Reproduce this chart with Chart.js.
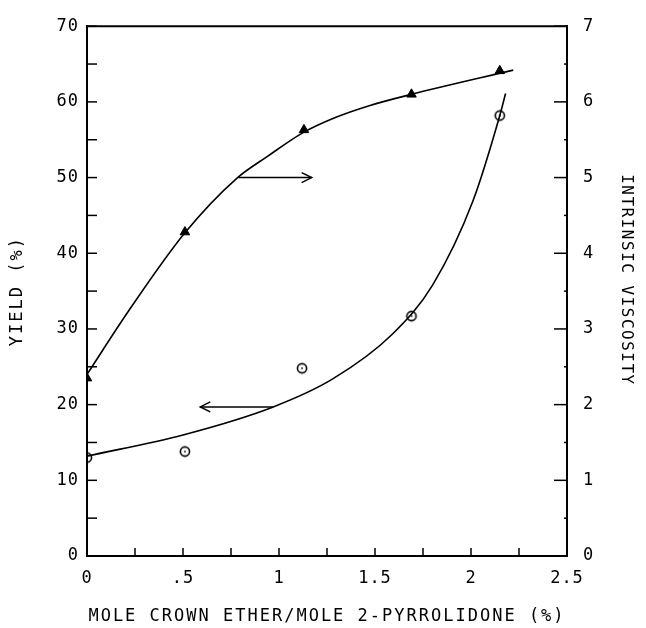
<!DOCTYPE html>
<html>
<head>
<meta charset="utf-8">
<script src="https://cdn.jsdelivr.net/npm/chart.js@4.4.1/dist/chart.umd.min.js"></script>
<style>
    html, body { margin: 0; padding: 0; background: #fff; }
    #wrap { width: 646px; height: 628px; }
</style>
</head>
<body>
<div id="wrap"><canvas id="chart" width="646" height="628"></canvas></div>
<script>
// Measured points
const viscLoading = [0, 0.51, 1.13, 1.69, 2.15];
const viscosity = [2.35, 4.28, 5.63, 6.1, 6.41];
const yieldLoading = [0, 0.51, 1.12, 1.69, 2.15];
const yieldPct = [13, 13.8, 24.8, 31.7, 58.2];

// Fitted curves
const viscCurveX = [0, 0.22, 0.51, 0.78, 0.94, 1.13, 1.3, 1.47, 1.69, 2.22];
const viscCurveY = [2.4, 3.25, 4.27, 4.99, 5.28, 5.6, 5.8, 5.95, 6.1, 6.42];
const yieldCurveX = [0, 0.5, 0.97, 1.28, 1.59, 1.80, 2.01, 2.15, 2.18];
const yieldCurveY = [13.2, 16.0, 19.7, 23.4, 29.3, 35.8, 46.9, 58.2, 61.1];

// Arrows pointing at each curve's axis
const viscArrowX = [0.79, 1.17];
const viscArrowY = [5.0, 5.0];
const yieldArrowX = [0.97, 0.59];
const yieldArrowY = [19.7, 19.7];

// Axes
const xTicks = [0, 0.5, 1, 1.5, 2, 2.5];
const xTickLabels = ['0', '.5', '1', '1.5', '2', '2.5'];
const xMinor = [0.25, 0.75, 1.25, 1.75, 2.25];
const yTicks = [0, 10, 20, 30, 40, 50, 60, 70];
const yTickLabels = ['0', '10', '20', '30', '40', '50', '60', '70'];
const yMinor = [5, 15, 25, 35, 45, 55, 65];
const y1Ticks = [0, 1, 2, 3, 4, 5, 6, 7];
const y1TickLabels = ['0', '1', '2', '3', '4', '5', '6', '7'];
const y1Minor = [0.5, 1.5, 2.5, 3.5, 4.5, 5.5, 6.5];

const FONT = "'DejaVu Sans Mono', monospace";
const toXY = (xs, ys) => xs.map((x, i) => ({ x: x, y: ys[i] }));

// open circle with a dot in the middle
const ring = document.createElement('canvas');
ring.width = 14;
ring.height = 14;
const rc = ring.getContext('2d');
rc.strokeStyle = '#000';
rc.lineWidth = 1.6;
rc.beginPath();
rc.arc(7, 7, 4.6, 0, Math.PI * 2);
rc.stroke();
rc.fillStyle = '#000';
rc.fillRect(6.2, 6.2, 1.6, 1.6);

// plotter lettering is spaced out, titles more than tick labels
const titleSpacing = { x: '2px', y: '2px', y1: '1.5px' };

const plotFrame = {
    id: 'plotFrame',
    afterUpdate(chart) {
        Object.values(chart.scales).forEach(s => {
            if (s._spaced) return;
            s._spaced = true;
            const orig = s.drawTitle;
            s.drawTitle = function () {
                this.ctx.letterSpacing = titleSpacing[this.id] || '0px';
                orig.apply(this, arguments);
                this.ctx.letterSpacing = '1px';
            };
        });
    },
    beforeDraw(chart) {
        chart.ctx.letterSpacing = '1px';
    },
    afterDraw(chart) {
        const { ctx, chartArea: a, scales } = chart;
        ctx.save();
        ctx.strokeStyle = '#000';
        ctx.lineWidth = 2;
        ctx.beginPath();
        ctx.moveTo(a.left - 1, a.top);
        ctx.lineTo(a.right + 1, a.top);
        ctx.stroke();

        ctx.lineWidth = 1.5;
        const tick = (x1, y1, x2, y2) => {
            ctx.beginPath();
            ctx.moveTo(x1, y1);
            ctx.lineTo(x2, y2);
            ctx.stroke();
        };
        xTicks.concat(xMinor).forEach(v => {
            const px = scales.x.getPixelForValue(v);
            tick(px, a.bottom, px, a.bottom - 8);
        });
        yTicks.concat(yMinor).forEach(v => {
            const py = scales.y.getPixelForValue(v);
            tick(a.left, py, a.left + 10, py);
        });
        y1Ticks.forEach(v => {
            const py = scales.y1.getPixelForValue(v);
            tick(a.right, py, a.right - 13, py);
        });
        y1Minor.forEach(v => {
            const py = scales.y1.getPixelForValue(v);
            tick(a.right, py, a.right - 3, py);
        });

        // arrow heads
        [[viscArrowX, viscArrowY, 'y1'], [yieldArrowX, yieldArrowY, 'y']].forEach(([xs, ys, axis]) => {
            const tx = scales.x.getPixelForValue(xs[1]);
            const ty = scales[axis].getPixelForValue(ys[1]);
            const dir = xs[1] > xs[0] ? 1 : -1;
            ctx.beginPath();
            ctx.moveTo(tx - dir * 10, ty - 5);
            ctx.lineTo(tx, ty);
            ctx.lineTo(tx - dir * 10, ty + 5);
            ctx.stroke();
        });
        ctx.restore();
    }
};

const tickFont = { family: FONT, size: 17 };
const titleFont = { family: FONT, size: 17 };
const hiddenGrid = { drawOnChartArea: false, drawTicks: false };
const blackBorder = { color: '#000', width: 2 };

new Chart(document.getElementById('chart').getContext('2d'), {
    type: 'scatter',
    data: {
        datasets: [
            {
                data: toXY(viscCurveX, viscCurveY),
                yAxisID: 'y1',
                showLine: true,
                borderColor: '#000',
                borderWidth: 1.6,
                pointRadius: 0,
                cubicInterpolationMode: 'monotone'
            },
            {
                data: toXY(yieldCurveX, yieldCurveY),
                yAxisID: 'y',
                showLine: true,
                borderColor: '#000',
                borderWidth: 1.6,
                pointRadius: 0,
                cubicInterpolationMode: 'monotone'
            },
            {
                data: toXY(viscLoading, viscosity),
                yAxisID: 'y1',
                pointStyle: 'triangle',
                pointRadius: 5.5,
                backgroundColor: '#000',
                borderColor: '#000'
            },
            {
                data: toXY(yieldLoading, yieldPct),
                yAxisID: 'y',
                pointStyle: ring,
                pointRadius: 5
            },
            {
                data: toXY(viscArrowX, viscArrowY),
                yAxisID: 'y1',
                showLine: true,
                borderColor: '#000',
                borderWidth: 1.5,
                pointRadius: 0
            },
            {
                data: toXY(yieldArrowX, yieldArrowY),
                yAxisID: 'y',
                showLine: true,
                borderColor: '#000',
                borderWidth: 1.5,
                pointRadius: 0
            }
        ]
    },
    options: {
        responsive: false,
        animation: false,
        devicePixelRatio: 1,
        layout: { padding: { top: 20, left: 0, right: 0, bottom: 0 } },
        plugins: {
            legend: { display: false },
            tooltip: { enabled: false }
        },
        scales: {
            x: {
                type: 'linear',
                position: 'bottom',
                min: 0,
                max: 2.5,
                afterBuildTicks: s => { s.ticks = xTicks.map(v => ({ value: v })); },
                afterFit: s => { s.height = 72; },
                ticks: {
                    callback: (v, i) => xTickLabels[i],
                    font: tickFont,
                    color: '#000',
                    padding: 12,
                    maxRotation: 0,
                    autoSkip: false
                },
                grid: hiddenGrid,
                border: blackBorder,
                title: {
                    display: true,
                    text: 'MOLE CROWN ETHER/MOLE 2-PYRROLIDONE (%)',
                    font: titleFont,
                    color: '#000',
                    padding: { top: 0, bottom: 1 }
                }
            },
            y: {
                position: 'left',
                min: 0,
                max: 70,
                afterBuildTicks: s => { s.ticks = yTicks.map(v => ({ value: v })); },
                afterFit: s => { s.width = 87; },
                ticks: {
                    callback: (v, i) => yTickLabels[i],
                    font: tickFont,
                    color: '#000',
                    padding: 8
                },
                grid: hiddenGrid,
                border: blackBorder,
                title: {
                    display: true,
                    text: 'YIELD (%)',
                    font: titleFont,
                    color: '#000',
                    padding: { top: 7, bottom: 0 }
                }
            },
            y1: {
                position: 'right',
                min: 0,
                max: 7,
                afterBuildTicks: s => { s.ticks = y1Ticks.map(v => ({ value: v })); },
                afterFit: s => { s.width = 79; },
                ticks: {
                    callback: (v, i) => y1TickLabels[i],
                    font: tickFont,
                    color: '#000',
                    padding: 16
                },
                grid: hiddenGrid,
                border: blackBorder,
                title: {
                    display: true,
                    text: 'INTRINSIC VISCOSITY  ',
                    font: { family: FONT, size: 16 },
                    color: '#000',
                    padding: { top: 10, bottom: 0 }
                }
            }
        }
    },
    plugins: [plotFrame]
});
</script>
</body>
</html>
